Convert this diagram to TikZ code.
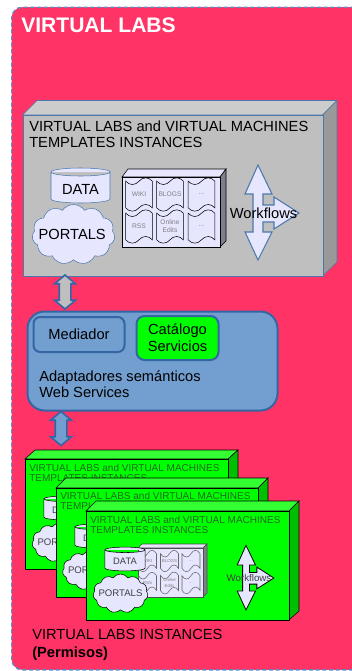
\documentclass[tikz,border=0pt]{standalone}
\usepackage{fontspec}
\setmainfont{Liberation Sans}
\usepackage{tikz}
\usetikzlibrary{positioning,shapes.symbols,shapes.arrows}

\definecolor{labred}{HTML}{FF3366}
\definecolor{dashblue}{HTML}{5C8DBE}
\definecolor{boxblue}{HTML}{3465A4}
\definecolor{svcblue}{HTML}{729FCF}
\definecolor{pale}{HTML}{E6E6FF}
\definecolor{line}{HTML}{4C78AC}
\definecolor{titlegreen}{HTML}{1F6A1F}

\newcommand{\flowpath}{(0,-48) -- (14,-19) -- (5,-19) -- (5,-8) -- (16,-8) -- (16,-16) -- (41,0) -- (16,16) -- (16,9) -- (5,9) -- (5,19) -- (14,19) -- (0,47) -- (-13,19) -- (-5,19) -- (-5,-19) -- (-13,-19) -- cycle}
\newcommand{\storepath}{(-29.5,-13.5) -- (-29.5,13.5) arc[start angle=180,end angle=0,x radius=29.5,y radius=4] -- (29.5,-13.5) arc[start angle=0,end angle=180,x radius=29.5,y radius=4] arc[start angle=180,end angle=360,x radius=29.5,y radius=4]}

\tikzset{
    front/.style={draw,rectangle,anchor=north west,inner sep=0pt},
    title/.style={anchor=north west,inner sep=0pt,align=left},
    puffs/.style={draw,cloud,cloud puffs=11,cloud puff arc=110,inner sep=0pt,fill=pale},
    doc/.style={draw=black,tape,tape bend top=in and out,tape bend bottom=in and out,inner sep=0pt,align=center,text=gray},
    updown/.style={draw=boxblue,line width=1.2pt,double arrow,rotate=90,inner sep=3.75pt,double arrow head extend=3.5pt,double arrow tip angle=100,double arrow head indent=0pt,minimum width=14.6pt}
}

\begin{document}
\begin{tikzpicture}[x=0.75pt,y=-0.75pt]
    \useasboundingbox (0,0) rectangle (351,671);
    \node[front,draw=dashblue,densely dashed,fill=labred,rounded corners=8pt,minimum width=270pt,minimum height=497pt,line width=1pt] at (11,6.5) (labs) {};
    \node[anchor=west,inner sep=0pt,text=white,font=\fontsize{15.8}{18}\selectfont\bfseries] at (21,25.5) (labstitle) {VIRTUAL LABS};

    \draw[draw=line,fill=black!20] (22.5,115) -- (37,100.5) -- (337,100.5) -- (322.5,115) -- cycle;
    \draw[draw=line,fill=black!40] (322.5,115) -- (337,100.5) -- (337,262) -- (322.5,276) -- cycle;
    \node[front,draw=line,fill=black!25,minimum width=225pt,minimum height=120.75pt] at (22.5,115) (templates) {};
    \node[title,font=\fontsize{11}{12.25}\selectfont] at (29,120.5) (templatestitle) {VIRTUAL LABS and VIRTUAL MACHINES\\TEMPLATES INSTANCES};
    \draw[draw=line,fill=pale,shift={(80.5,185.5)}] \storepath;
    \node[inner sep=0pt,font=\fontsize{11}{13}\selectfont] at (80.5,189) (data) {DATA};
    \node[puffs,draw=line,minimum width=62.25pt,minimum height=45pt,font=\fontsize{11}{13}\selectfont] at (73.5,234.5) (portals) {\makebox[0pt]{\hspace{-2pt}PORTALS}};

    \draw[draw=black,fill=pale] (122,177) -- (128,169) -- (226,169) -- (220,177) -- cycle;
    \draw[draw=black,fill=black!45!pale] (220,177) -- (226,169) -- (226,241) -- (220,247) -- cycle;
    \node[front,draw=black,fill=pale,minimum width=73.5pt,minimum height=52.5pt] at (122,177) (panel) {};
    \node[doc,minimum width=20pt,minimum height=25pt,font=\fontsize{5}{6}\selectfont] at (139,194.5) (wiki) {WIKI};
    \node[doc,minimum width=20pt,minimum height=25pt,font=\fontsize{5}{6}\selectfont] at (170,194.5) (blogs) {BLOGS};
    \node[doc,minimum width=20pt,minimum height=25pt,font=\fontsize{5}{6}\selectfont] at (201.5,194.5) (other1) {...};
    \node[doc,minimum width=20pt,minimum height=25pt,font=\fontsize{5}{6}\selectfont] at (139,226.5) (rss) {RSS};
    \node[doc,minimum width=20pt,minimum height=25pt,font=\fontsize{5}{6}\selectfont] at (170,226.5) (edits) {Online\\Edits};
    \node[doc,minimum width=20pt,minimum height=25pt,font=\fontsize{5}{6}\selectfont] at (201.5,226.5) (other2) {...};

    \draw[draw=line,line width=0.8pt,fill=pale,shift={(258,213)}] \flowpath;
    \node[inner sep=0pt,font=\fontsize{11}{13}\selectfont] at (263.5,213) (workflows) {Workflows};

    \node[updown,fill=black!25,minimum height=25.5pt] at (65,292) (link1) {};
    \node[front,draw=boxblue,fill=svcblue,line width=1.5pt,rounded corners=12.75pt,minimum width=187.5pt,minimum height=74.25pt] at (26.5,310.5) (adapters) {};
    \node[front,draw=boxblue,fill=svcblue,line width=1.5pt,rounded corners=5pt,minimum width=68.25pt,minimum height=26.25pt] at (32.5,316) (mediador) {};
    \node[inner sep=0pt,font=\fontsize{11}{13}\selectfont] at (mediador) (mediadortext) {Mediador};
    \node[front,draw=boxblue,fill=green,line width=1.5pt,rounded corners=6pt,minimum width=61.5pt,minimum height=33pt,align=center,font=\fontsize{11}{12.5}\selectfont] at (135.5,315) (catalogo) {Catálogo\\Servicios};
    \node[title,font=\fontsize{11}{12}\selectfont] at (39,370) (adapterstext) {Adaptadores semánticos\\Web Services};
    \node[updown,fill=svcblue,minimum height=25.5pt] at (61,428.5) (link2) {};

    \draw[draw=black,fill=green!80!white] (25,459) -- (35,450) -- (238,450) -- (228,459) -- cycle;
    \draw[draw=black,fill=green!75!black] (228,459) -- (238,450) -- (238,560) -- (228,569) -- cycle;
    \node[front,draw=black,fill=green,minimum width=152.25pt,minimum height=82.5pt] at (25,459) (inst1) {};
    \node[title,text=titlegreen,font=\fontsize{7.5}{8.2}\selectfont] at (29,463.5) (inst1title) {VIRTUAL LABS and VIRTUAL MACHINES\\TEMPLATES INSTANCES};
    \draw[draw=black,fill=pale,shift={(64,508)},scale=0.68] \storepath;
    \node[inner sep=0pt,text=black!75,font=\fontsize{7}{8}\selectfont] at (64,510.5) (data1) {DATA};
    \node[puffs,draw=black,text=black!75,minimum width=41.25pt,minimum height=29.25pt,font=\fontsize{7.2}{8}\selectfont] at (59.5,542.5) (portals1) {\makebox[0pt]{PORTALS}};

    \draw[draw=black,fill=green!80!white] (56,488) -- (66,478) -- (268,478) -- (258,488) -- cycle;
    \draw[draw=black,fill=green!75!black] (258,488) -- (268,478) -- (268,588) -- (258,597) -- cycle;
    \node[front,draw=black,fill=green,minimum width=151.5pt,minimum height=81.75pt] at (56,488) (inst2) {};
    \node[title,text=titlegreen,font=\fontsize{7.5}{8.2}\selectfont] at (60,491.5) (inst2title) {VIRTUAL LABS and VIRTUAL MACHINES\\TEMPLATES INSTANCES};
    \draw[draw=black,fill=pale,shift={(95,536)},scale=0.68] \storepath;
    \node[inner sep=0pt,text=black!75,font=\fontsize{7}{8}\selectfont] at (95,538.5) (data2) {DATA};
    \node[puffs,draw=black,text=black!75,minimum width=41.25pt,minimum height=29.25pt,font=\fontsize{7.2}{8}\selectfont] at (90,570.5) (portals2) {\makebox[0pt]{PORTALS}};

    \draw[draw=black,fill=green!80!white] (86,511) -- (96,501) -- (299,501) -- (289,511) -- cycle;
    \draw[draw=black,fill=green!75!black] (289,511) -- (299,501) -- (299,611) -- (289,620) -- cycle;
    \node[front,draw=black,fill=green,minimum width=152.25pt,minimum height=81.75pt] at (86,511) (inst3) {};
    \node[title,text=titlegreen,font=\fontsize{7.5}{8.2}\selectfont] at (90,515.5) (inst3title) {VIRTUAL LABS and VIRTUAL MACHINES\\TEMPLATES INSTANCES};

    \draw[draw=black!70,fill=pale] (138,548) -- (142,544) -- (207,544) -- (203,548) -- cycle;
    \draw[draw=black!70,fill=black!45!pale] (203,548) -- (207,544) -- (207,593) -- (203,597) -- cycle;
    \node[front,draw=black!70,fill=pale,minimum width=48.75pt,minimum height=36.75pt] at (138,548) (panel3) {};
    \node[doc,draw=black!60,minimum width=13.5pt,minimum height=16pt,font=\fontsize{3.3}{4}\selectfont] at (147.5,561) (wiki3) {WIKI};
    \node[doc,draw=black!60,minimum width=13.5pt,minimum height=16pt,font=\fontsize{3.3}{4}\selectfont] at (169.5,561) (blogs3) {BLOGS};
    \node[doc,draw=black!60,minimum width=13.5pt,minimum height=16pt,font=\fontsize{3.3}{4}\selectfont] at (191,561) (other31) {...};
    \node[doc,draw=black!60,minimum width=13.5pt,minimum height=16pt,font=\fontsize{3.3}{4}\selectfont] at (147.5,583) (rss3) {RSS};
    \node[doc,draw=black!60,minimum width=13.5pt,minimum height=16pt,font=\fontsize{3.3}{4}\selectfont] at (169.5,583) (edits3) {Online\\Edits};
    \node[doc,draw=black!60,minimum width=13.5pt,minimum height=16pt,font=\fontsize{3.3}{4}\selectfont] at (191,583) (other32) {...};

    \draw[draw=black,fill=pale,shift={(125,559)},scale=0.68] \storepath;
    \node[inner sep=0pt,text=black!75,font=\fontsize{7}{8}\selectfont] at (125,561.5) (data3) {DATA};
    \node[puffs,draw=black,text=black!75,minimum width=41.25pt,minimum height=29.25pt,font=\fontsize{7.2}{8}\selectfont] at (120.5,593.5) (portals3) {\makebox[0pt]{PORTALS}};

    \draw[draw=black,line width=0.6pt,fill=pale,shift={(246,578)},scale=0.68] \flowpath;
    \node[inner sep=0pt,text=black!75,font=\fontsize{7.3}{9}\selectfont] at (249,578) (workflows3) {Workflows};

    \node[title,font=\fontsize{11}{13.25}\selectfont] at (32,629) (instances) {VIRTUAL LABS INSTANCES\\\textbf{(Permisos)}};
\end{tikzpicture}
\end{document}
